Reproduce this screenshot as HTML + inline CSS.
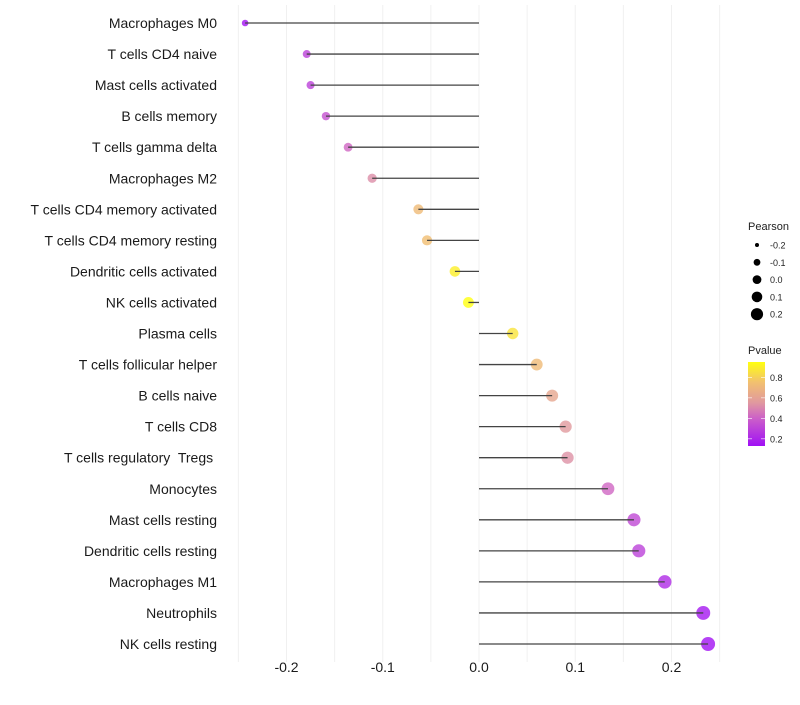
<!DOCTYPE html>
<html><head><meta charset="utf-8"><style>
body{margin:0;background:#fff;font-family:"Liberation Sans",sans-serif;}
text{white-space:pre;}
</style></head><body>
<svg id="chart" width="800" height="700" xmlns="http://www.w3.org/2000/svg"></svg>
<script>
const categories=["Macrophages M0","T cells CD4 naive","Mast cells activated","B cells memory","T cells gamma delta","Macrophages M2","T cells CD4 memory activated","T cells CD4 memory resting","Dendritic cells activated","NK cells activated","Plasma cells","T cells follicular helper","B cells naive","T cells CD8","T cells regulatory  Tregs ","Monocytes","Mast cells resting","Dendritic cells resting","Macrophages M1","Neutrophils","NK cells resting"];
const pearson=[-0.243,-0.179,-0.175,-0.159,-0.136,-0.111,-0.063,-0.054,-0.025,-0.011,0.035,0.060,0.076,0.090,0.092,0.134,0.161,0.166,0.193,0.233,0.238];
const pvalue=[0.14,0.30,0.30,0.35,0.42,0.52,0.72,0.74,0.90,0.95,0.86,0.72,0.62,0.56,0.53,0.42,0.32,0.30,0.22,0.16,0.14];
const xTicks=[-0.2,-0.1,0.0,0.1,0.2];
const xTickLabels=["-0.2","-0.1","0.0","0.1","0.2"];
const sizeLegendValues=[-0.2,-0.1,0.0,0.1,0.2];
const sizeLegendLabels=["-0.2","-0.1","0.0","0.1","0.2"];
const colorLegendValues=[0.2,0.4,0.6,0.8];
const colorLegendLabels=["0.2","0.4","0.6","0.8"];

const NS="http://www.w3.org/2000/svg";
const svg=document.getElementById('chart');
function mk(t,a){const e=document.createElementNS(NS,t);for(const k in a)e.setAttribute(k,a[k]);svg.appendChild(e);return e;}
const x0=479,ppu=962.5;
const xs=v=>x0+v*ppu;
const ys=i=>23+i*31.05;
const rs=v=>Math.sqrt(Math.max(2.25,16+79*(v+0.179)));
const stops=[[0.13,[160,16,245]],[0.4,[204,96,200]],[0.55,[224,152,160]],[0.75,[242,192,112]],[0.95,[255,255,16]]];
function col(p){if(p<=stops[0][0])return `rgb(${stops[0][1]})`;for(let i=1;i<stops.length;i++){if(p<=stops[i][0]){const a=stops[i-1],b=stops[i];const t=(p-a[0])/(b[0]-a[0]);return 'rgb('+a[1].map((c,j)=>Math.round(c+(b[1][j]-c)*t)).join(',')+')';}}return `rgb(${stops[4][1]})`;}
for(let k=-5;k<=5;k++){const v=k*0.05;const g=mk('line',{x1:xs(v),x2:xs(v),y1:5,y2:662,stroke:'#f0f0f0','stroke-width':1});

}
xTicks.forEach((v,i)=>{const t=mk('text',{x:xs(v),y:672,'text-anchor':'middle','font-size':14,fill:'#1a1a1a'});t.textContent=xTickLabels[i];

});
categories.forEach((c,i)=>{const y=ys(i);
const t=mk('text',{x:217,y:y+5,'text-anchor':'end','font-size':14,fill:'#1a1a1a'});t.textContent=c;


const d=mk('circle',{cx:xs(pearson[i]),cy:y,r:rs(pearson[i]),fill:col(pvalue[i]),'fill-opacity':0.8});


const l=mk('line',{x1:x0,x2:xs(pearson[i]),y1:y,y2:y,stroke:'#444','stroke-width':1.3});

});
let tt=mk('text',{x:748,y:230,'font-size':11,fill:'#222'});tt.textContent='Pearson';


sizeLegendValues.forEach((v,i)=>{const y=245+i*17.3;
const c=mk('circle',{cx:757,cy:y,r:[2,3.4,4.4,5.3,6.1][i],fill:'#000'});


const t=mk('text',{x:770,y:y+3.5,'font-size':9,fill:'#222'});t.textContent=sizeLegendLabels[i];

});
tt=mk('text',{x:748,y:354,'font-size':11,fill:'#222'});tt.textContent='Pvalue';


const defs=mk('defs',{});const lg=document.createElementNS(NS,'linearGradient');lg.setAttribute('id','pg');lg.setAttribute('x1',0);lg.setAttribute('x2',0);lg.setAttribute('y1',1);lg.setAttribute('y2',0);defs.appendChild(lg);
stops.forEach(s=>{const st=document.createElementNS(NS,'stop');st.setAttribute('offset',(s[0]-0.13)/0.82);st.setAttribute('stop-color',`rgb(${s[1]})`);lg.appendChild(st);});
const bar=mk('rect',{x:748,y:362,width:17,height:84,fill:'url(#pg)'});


colorLegendValues.forEach((v,i)=>{const y=446-(v-0.13)/0.82*84;
const l=mk('line',{x1:748,x2:752,y1:y,y2:y,stroke:'#fff','stroke-width':0.6});
const l2=mk('line',{x1:761,x2:765,y1:y,y2:y,stroke:'#fff','stroke-width':0.6});
const t=mk('text',{x:770,y:y+3.5,'font-size':9,fill:'#222'});t.textContent=colorLegendLabels[i];

});
</script>
</body></html>
